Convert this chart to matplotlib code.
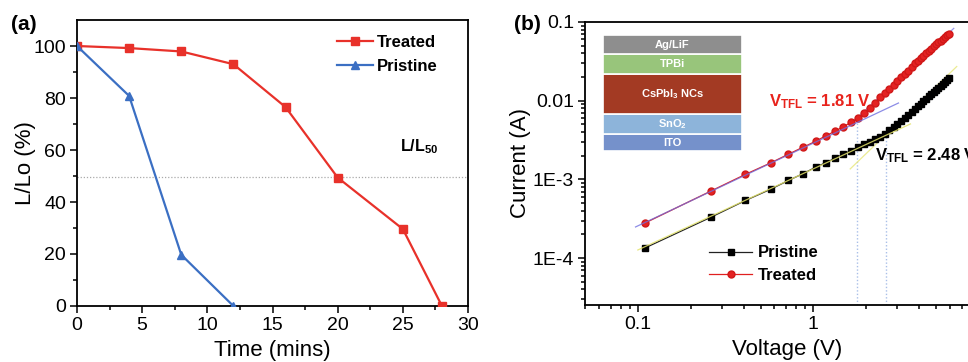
import numpy as np
import matplotlib
matplotlib.use('Agg')
import matplotlib.pyplot as plt
from matplotlib.ticker import FixedLocator, FixedFormatter, LogLocator, NullFormatter, MultipleLocator

plt.rcParams['font.family'] = ['Liberation Sans', 'DejaVu Sans']
plt.rcParams['mathtext.fontset'] = 'custom'
plt.rcParams['mathtext.rm'] = 'Liberation Sans'
plt.rcParams['mathtext.bf'] = 'Liberation Sans:bold'

# (a) stability data
time_treated = [0, 4, 8, 12, 16, 20, 25, 28]
lum_treated = [100, 99.2, 97.9, 93, 76.5, 49.4, 29.6, 0]
time_pristine = [0, 4, 8, 12]
lum_pristine = [100, 80.8, 19.7, 0]
l50_level = 49.6

# (b) I-V data
voltage = [0.11, 0.26, 0.41, 0.57, 0.72, 0.87, 1.03, 1.18, 1.33, 1.48,
           1.64, 1.79, 1.94, 2.10, 2.25, 2.40, 2.56, 2.71, 2.86, 3.01,
           3.17, 3.32, 3.47, 3.62, 3.78, 3.93, 4.08, 4.23, 4.39, 4.54,
           4.69, 4.84, 5.00, 5.15, 5.30, 5.45, 5.61, 5.76, 5.91]
current_treated = [2.8e-4, 7.1e-4, 1.16e-3, 1.62e-3, 2.09e-3, 2.56e-3, 3.05e-3, 3.6e-3, 4.1e-3, 4.7e-3,
                   5.3e-3, 6.0e-3, 6.9e-3, 8.1e-3, 9.4e-3, 0.011, 0.0126, 0.0142, 0.016, 0.018,
                   0.020, 0.022, 0.024, 0.027, 0.030, 0.032, 0.035, 0.037, 0.040, 0.043,
                   0.046, 0.049, 0.052, 0.055, 0.058, 0.061, 0.064, 0.068, 0.071]
current_pristine = [1.35e-4, 3.3e-4, 5.4e-4, 7.5e-4, 9.7e-4, 1.18e-3, 1.43e-3, 1.64e-3, 1.86e-3, 2.09e-3,
                    2.33e-3, 2.56e-3, 2.78e-3, 3.0e-3, 3.25e-3, 3.5e-3, 3.8e-3, 4.2e-3, 4.65e-3, 5.1e-3,
                    5.6e-3, 6.1e-3, 6.65e-3, 7.2e-3, 7.85e-3, 8.5e-3, 9.2e-3, 9.9e-3, 0.0106, 0.0114,
                    0.0122, 0.0130, 0.0138, 0.0146, 0.0155, 0.0164, 0.0174, 0.0184, 0.0194]

# fitted lines (end points)
fit_treated_low = ([0.097, 3.05], [2.49e-4, 9.35e-3])
fit_treated_high = ([1.6, 6.3], [4.9e-3, 0.083])
fit_pristine_low = ([0.1, 3.57], [1.27e-4, 5.07e-3])
fit_pristine_high = ([1.62, 6.55], [1.36e-3, 0.0272])
vtfl_lines = [(1.78, 5.8e-3), (2.6, 3.6e-3)]

# device stack (bottom to top)
layers = ['ITO', 'SnO$_\\mathbf{2}$', 'CsPbI$_\\mathbf{3}$ NCs', 'TPBi', 'Ag/LiF']
layer_heights = [17, 20, 40, 20, 19.5]
layer_colors = ['#7591cb', '#8db4da', '#a33a23', '#98c57b', '#8e8e8e']

red = '#e8312a'
blue = '#3b6fc3'

fig = plt.figure(figsize=(9.68, 3.62), dpi=100)

# ---------- panel (a) ----------
ax1 = fig.add_axes([77 / 968, 56 / 362, 391 / 968, 286 / 362])
ax1.axhline(l50_level, color='#aaaaaa', lw=0.9, ls=(0, (1, 1.5)), zorder=1)
ax1.plot(time_treated, lum_treated, color=red, marker='s', ms=5.5, lw=1.6, label='Treated', zorder=3)
ax1.plot(time_pristine, lum_pristine, color=blue, marker='^', ms=6, lw=1.6, label='Pristine', zorder=3)
ax1.set_xlim(0, 30)
ax1.set_ylim(0, 110)
ax1.xaxis.set_major_locator(MultipleLocator(5))
ax1.xaxis.set_minor_locator(MultipleLocator(2.5))
ax1.yaxis.set_major_locator(FixedLocator([0, 20, 40, 60, 80, 100]))
ax1.yaxis.set_minor_locator(FixedLocator([10, 30, 50, 70, 90]))
ax1.tick_params(which='both', direction='out', labelsize=14, width=1.1)
ax1.tick_params(which='major', length=5, pad=3)
ax1.tick_params(which='minor', length=3)
for s in ax1.spines.values():
    s.set_linewidth(1.3)
ax1.set_xlabel('Time (mins)', fontsize=16, labelpad=4)
ax1.set_ylabel('L/Lo (%)', fontsize=16, labelpad=-2)
ax1.legend(loc='upper right', bbox_to_anchor=(0.96, 1.0), frameon=False, handlelength=2.2,
           handletextpad=0.2, labelspacing=0.55, prop={'weight': 'bold', 'size': 12})
ax1.text(0.825, 0.54, r'$\mathbf{L/L_{50}}$', transform=ax1.transAxes, fontsize=11.5)
fig.text(11 / 968, 1 - 25 / 362, '(a)', fontsize=15, fontweight='bold', va='center')

# ---------- panel (b) ----------
ax2 = fig.add_axes([585 / 968, 57 / 362, 404 / 968, 283 / 362])
ax2.set_xscale('log')
ax2.set_yscale('log')
ax2.set_xlim(0.05, 10)
ax2.set_ylim(2.54e-5, 0.1)
for v, top in vtfl_lines:
    ax2.plot([v, v], [2.54e-5, top], color='#a9bfe8', lw=1.0, ls=(0, (1, 1.5)), zorder=1)
ax2.plot(*fit_treated_low, color='#6f6fe0', lw=0.9, alpha=0.8, zorder=4)
ax2.plot(*fit_treated_high, color='#8080e8', lw=0.9, alpha=0.8, zorder=2)
ax2.plot(*fit_pristine_low, color='#e2e26a', lw=0.9, alpha=0.85, zorder=4)
ax2.plot(*fit_pristine_high, color='#e8e880', lw=0.9, alpha=0.85, zorder=2)
ax2.plot(voltage, current_pristine, color='#222222', lw=0.9, marker='s', ms=4, mfc='black', mec='black',
         label='Pristine', zorder=3)
ax2.plot(voltage, current_treated, color='#e02020', lw=0.9, marker='o', ms=5, mfc='#e42222', mec='#d01818',
         label='Treated', zorder=3)

ax2.xaxis.set_major_locator(FixedLocator([0.1, 1, 10]))
ax2.xaxis.set_major_formatter(FixedFormatter(['0.1', '1', '']))
ax2.xaxis.set_minor_locator(LogLocator(base=10, subs=np.arange(2, 10)))
ax2.xaxis.set_minor_formatter(NullFormatter())
ax2.yaxis.set_major_locator(FixedLocator([1e-4, 1e-3, 1e-2, 1e-1]))
ax2.yaxis.set_major_formatter(FixedFormatter(['1E-4', '1E-3', '0.01', '0.1']))
ax2.yaxis.set_minor_locator(LogLocator(base=10, subs=np.arange(2, 10)))
ax2.yaxis.set_minor_formatter(NullFormatter())
ax2.tick_params(which='both', direction='out', labelsize=14, width=1.1)
ax2.tick_params(which='major', length=5, pad=3)
ax2.tick_params(which='minor', length=3)
for s in ax2.spines.values():
    s.set_linewidth(1.3)
ax2.set_xlabel('Voltage (V)', fontsize=16, labelpad=4)
ax2.set_ylabel('Current (A)', fontsize=16, labelpad=1)
ax2.legend(loc='lower left', bbox_to_anchor=(0.27, 0.025), frameon=False, handlelength=2.6,
           handletextpad=0.3, labelspacing=0.45, prop={'weight': 'bold', 'size': 12})
ax2.text(0.555, 9.7e-3, r'$\mathbf{V_{TFL}}$ = 1.81 V', color='#e8231c', fontsize=12,
         fontweight='bold', va='center')
ax2.text(2.25, 2.0e-3, r'$\mathbf{V_{TFL}}$ = 2.48 V', color='black', fontsize=12,
         fontweight='bold', va='center')
fig.text(514 / 968, 1 - 25 / 362, '(b)', fontsize=15, fontweight='bold', va='center')

# inset: device stack
ax3 = fig.add_axes([603 / 968, 1 - 151 / 362, 139 / 968, 116 / 362])
bottoms = np.concatenate([[0], np.cumsum(layer_heights)[:-1]])
ax3.bar(0, layer_heights, bottom=bottoms, width=1, color=layer_colors, edgecolor='white', linewidth=1.2)
for name, b, h in zip(layers, bottoms, layer_heights):
    ax3.text(0, b + h / 2, name, color='white', fontsize=8, fontweight='bold', ha='center', va='center')
ax3.set_xlim(-0.5, 0.5)
ax3.set_ylim(0, sum(layer_heights))
ax3.axis('off')

fig.savefig('out.png', dpi=100)
